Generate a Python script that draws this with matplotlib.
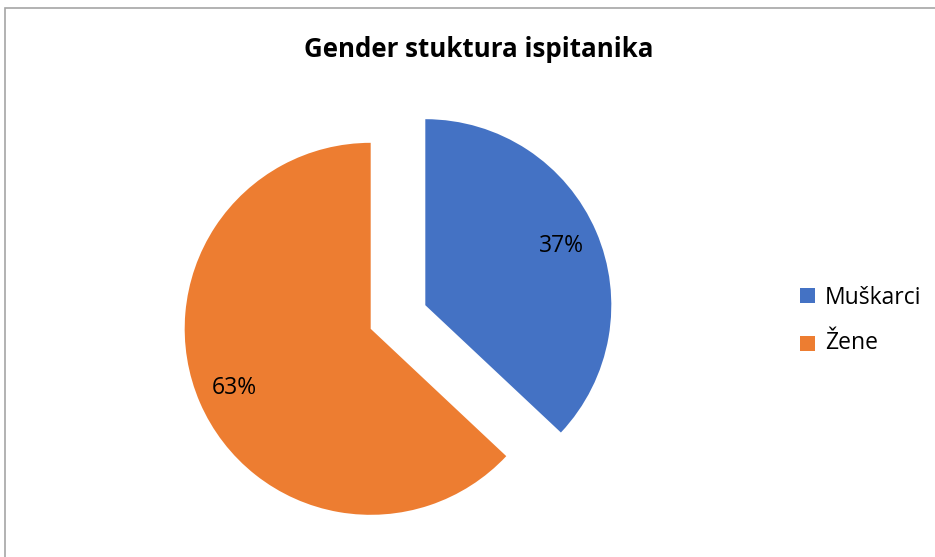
import matplotlib
matplotlib.use("Agg")
import matplotlib.pyplot as plt
from matplotlib.patches import Rectangle

categories = ["Muškarci", "Žene"]
values = [37, 63]
colors = ["#4472C4", "#ED7D31"]
title = "Gender stuktura ispitanika"

plt.rcParams['font.family'] = ['Open Sans', 'DejaVu Sans']

W, H = 935, 557
R = 186
fig = plt.figure(figsize=(W / 100, H / 100), dpi=100)
ax = fig.add_axes([0, 0, 1, 1])

wedges, texts, autotexts = ax.pie(
    values, colors=colors, startangle=90, counterclock=False,
    explode=[0.16 * R, 0.16 * R], center=(398, H - 317), radius=R,
    autopct='%1.0f%%', pctdistance=0.8, frame=False,
    textprops=dict(fontsize=16.5, color='#000000'))
ax.set_xlim(0, W)
ax.set_ylim(0, H)
ax.set_aspect('auto')
ax.axis('off')

# chart border
fig.patches.append(Rectangle((5 / W, -0.1), 1.2, 1 - 8 / H + 0.1, transform=fig.transFigure,
                             fill=False, edgecolor='#a6a6a6', linewidth=1.2))

fig.text(479 / W, 1 - 57 / H, title, ha='center', va='baseline',
         fontsize=18.6, fontweight='bold', color='#000000')

# legend
leg_y = [304, 349]
sq_y = [288, 336]
for cat, col, ty, sy in zip(categories, colors, leg_y, sq_y):
    fig.patches.append(Rectangle((800 / W, 1 - (sy + 14.5) / H), 14.5 / W, 14.5 / H,
                                 transform=fig.transFigure, facecolor=col, edgecolor='none'))
    fig.text(825 / W, 1 - ty / H, cat, ha='left', va='baseline', fontsize=16.5, color='#000000')

fig.savefig("out.png", dpi=100)
